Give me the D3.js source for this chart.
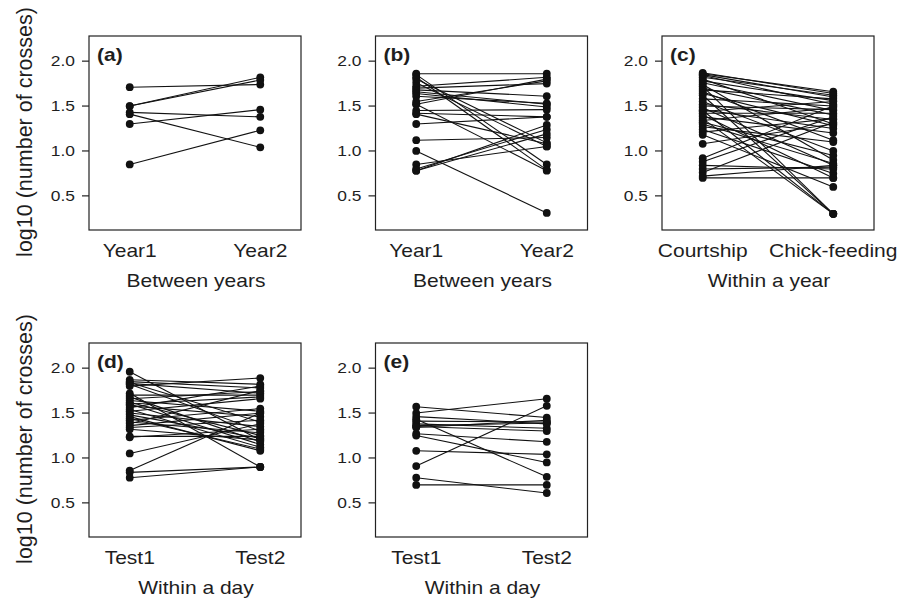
<!DOCTYPE html>
<html>
<head>
<meta charset="utf-8">
<script src="https://cdn.jsdelivr.net/npm/d3@7"></script>
<style>
  body { margin: 0; background: #fff; }
  text { font-family: "Liberation Sans", Arial, sans-serif; fill: #1e1e1e; }
</style>
</head>
<body>
<script>
// size of the page
var width = 909;
var height = 600;

// panel data: first and second measurement of each bird (log10 crosses)
var panelIds = ["(a)", "(b)", "(c)", "(d)", "(e)"];
var xTitles = ["Between years", "Between years", "Within a year", "Within a day", "Within a day"];
var categories = [["Year1", "Year2"], ["Year1", "Year2"], ["Courtship", "Chick-feeding"], ["Test1", "Test2"], ["Test1", "Test2"]];
var yTicks = [0.5, 1.0, 1.5, 2.0];
var yTitle = "log10 (number of crosses)";

var a1 = [1.71, 1.50, 1.50, 1.43, 1.41, 1.30, 0.85];
var a2 = [1.74, 1.82, 1.79, 1.38, 1.04, 1.46, 1.23];

var b1 = [1.86, 1.85, 1.82, 1.80, 1.76, 1.72, 1.70, 1.68, 1.66, 1.64, 1.61, 1.55, 1.52, 1.52, 1.45, 1.42, 1.41, 1.30, 1.12, 1.00, 0.85, 0.80, 0.78, 0.78];
var b2 = [1.86, 0.85, 0.79, 1.09, 1.05, 1.82, 1.75, 1.61, 1.52, 1.49, 1.53, 1.78, 1.80, 0.78, 1.46, 1.38, 1.08, 1.38, 1.15, 0.31, 1.05, 1.24, 1.29, 1.19];

var c1 = [1.87, 1.86, 1.85, 1.84, 1.82, 1.80, 1.78, 1.76, 1.74, 1.72, 1.70, 1.68, 1.66, 1.64, 1.62, 1.58, 1.55, 1.52, 1.50, 1.48, 1.46, 1.45, 1.44, 1.42, 1.40, 1.38, 1.36, 1.34, 1.32, 1.30, 1.27, 1.24, 1.21, 1.18, 1.08, 0.92, 0.88, 0.84, 0.80, 0.76, 0.72, 0.70];
var c2 = [1.64, 1.66, 1.60, 1.52, 1.62, 1.30, 1.56, 1.45, 0.90, 0.30, 1.40, 1.58, 1.12, 1.28, 0.30, 1.50, 1.00, 1.35, 1.46, 0.84, 1.25, 0.30, 1.55, 1.42, 0.70, 1.20, 0.30, 1.48, 0.95, 0.86, 1.10, 0.75, 1.36, 0.60, 1.30, 1.50, 1.38, 0.80, 0.82, 1.32, 0.84, 0.70];

var d1 = [1.96, 1.87, 1.85, 1.84, 1.83, 1.82, 1.80, 1.72, 1.70, 1.68, 1.66, 1.64, 1.62, 1.60, 1.60, 1.58, 1.56, 1.54, 1.52, 1.50, 1.48, 1.46, 1.44, 1.42, 1.40, 1.38, 1.36, 1.34, 1.32, 1.24, 1.23, 1.05, 0.86, 0.84, 0.78];
var d2 = [1.20, 1.82, 1.78, 1.40, 1.72, 1.30, 1.89, 0.90, 1.70, 1.18, 1.74, 1.52, 1.25, 1.68, 1.15, 1.46, 1.80, 1.12, 1.66, 1.35, 1.22, 1.08, 1.10, 1.55, 1.28, 1.75, 1.50, 1.42, 1.20, 1.24, 1.32, 1.38, 1.50, 0.90, 0.90];

var e1 = [1.57, 1.50, 1.46, 1.43, 1.41, 1.38, 1.36, 1.35, 1.34, 1.27, 1.25, 1.08, 0.91, 0.78, 0.70];
var e2 = [1.45, 1.66, 1.38, 0.79, 1.40, 1.33, 1.39, 1.30, 1.42, 1.18, 0.95, 1.04, 1.58, 0.61, 0.70];

var firsts = [a1, b1, c1, d1, e1];
var seconds = [a2, b2, c2, d2, e2];

// panel boxes (left, top) in page pixels
var boxW = 212, boxH = 194;
var lefts = [89, 375.5, 662, 89, 375.5];
var tops = [36, 36, 36, 343, 343];
var stretch = 1.2; // text in the figure is a bit wide

var svg = d3.select("body").append("svg")
    .attr("width", width)
    .attr("height", height);

function wideText(g, x, y, str, size, anchor, bold) {
  return g.append("text")
      .attr("transform", "translate(" + x + "," + y + ") scale(" + stretch + ",1)")
      .attr("text-anchor", anchor)
      .style("font-size", size + "px")
      .style("font-weight", bold ? "bold" : "normal")
      .text(str);
}

for (var i = 0; i < panelIds.length; i++) {
  var g = svg.append("g").attr("transform", "translate(" + lefts[i] + "," + tops[i] + ")");

  var x = d3.scalePoint().domain(categories[i]).range([0, boxW]).padding(0.312);
  var y = d3.scaleLinear().domain([0.12, 2.28]).range([boxH, 0]);

  var pairs = firsts[i].map(function (v, k) { return [v, seconds[i][k]]; });
  var cats = categories[i];

  // lines between the two measurements
  g.selectAll("line.pair").data(pairs).enter().append("line")
      .attr("class", "pair")
      .attr("x1", x(cats[0])).attr("x2", x(cats[1]))
      .attr("y1", function (d) { return y(d[0]); })
      .attr("y2", function (d) { return y(d[1]); })
      .attr("stroke", "#111").attr("stroke-width", 1.1);

  g.selectAll("circle.p1").data(pairs).enter().append("circle")
      .attr("class", "p1")
      .attr("cx", x(cats[0])).attr("cy", function (d) { return y(d[0]); })
      .attr("r", 3.9).attr("fill", "#111");
  g.selectAll("circle.p2").data(pairs).enter().append("circle")
      .attr("class", "p2")
      .attr("cx", x(cats[1])).attr("cy", function (d) { return y(d[1]); })
      .attr("r", 3.9).attr("fill", "#111");

  // frame
  g.append("rect").attr("width", boxW).attr("height", boxH)
      .attr("fill", "none").attr("stroke", "#222").attr("stroke-width", 1.2);

  // y axis ticks
  yTicks.forEach(function (t) {
    g.append("line").attr("x1", -7).attr("x2", 0)
        .attr("y1", y(t)).attr("y2", y(t))
        .attr("stroke", "#222").attr("stroke-width", 1.2);
    wideText(g, -14, y(t) + 5, d3.format(".1f")(t), 14.5, "end", false);
  });

  // category labels and x title
  cats.forEach(function (c) {
    wideText(g, x(c), boxH + 27, c, 17.5, "middle", false);
  });
  wideText(g, boxW / 2 + 1, boxH + 56.5, xTitles[i], 17.5, "middle", false);

  // panel letter
  wideText(g, 8, 25, panelIds[i], 17.5, "start", true);

  // y title on the left column only
  if (i === 0 || i === 3) {
    g.append("text")
        .attr("transform", "translate(" + (31.5 - lefts[i]) + "," + (boxH / 2 - 1) + ") rotate(-90)")
        .attr("text-anchor", "middle")
        .style("font-size", "21.5px")
        .text(yTitle);
  }
}
</script>
</body>
</html>
